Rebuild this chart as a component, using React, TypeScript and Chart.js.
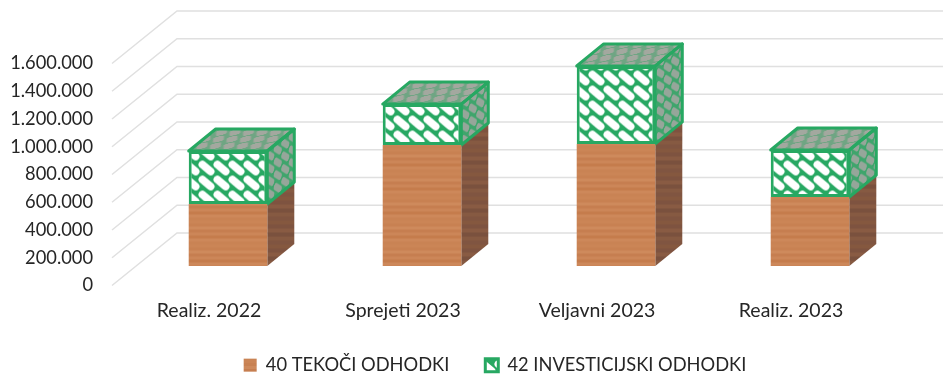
import React, { useEffect, useRef } from "react";
import { Chart, registerables } from "chart.js";

Chart.register(...registerables);

const categories = ["Realiz. 2022", "Sprejeti 2023", "Veljavni 2023", "Realiz. 2023"];
const tekoci = [447000, 872000, 880000, 497000];
const investicijski = [382000, 295000, 562000, 339000];
const seriesNames = ["40 TEKOČI ODHODKI", "42 INVESTICIJSKI ODHODKI"];
const GREEN = "#27a862";
const FONT = "Lato";
const TEXT = "#262626";
const GRID = "#e0e0e0";
const woodFront = ["#cb8556", "#c88152", "#ce8a5c", "#c67e50", "#cc8658", "#c57c4c", "#cd885a", "#c98354"];
const woodSide = ["#85583f", "#7e5340", "#895b43", "#7a513e", "#865a42", "#805541"];

// 3D frame: back wall offset from the front of the floor, and where bars stand in the depth
const WALL = { dx: 65, dy: -52.5 };
const BAR_SHIFT = { dx: 19, dy: -19.5 };
const BAR_DEPTH = { dx: 27, dy: -22 };

function stripes(colors: string[], h: number) {
  const c = document.createElement("canvas");
  c.width = 8;
  c.height = colors.length * h;
  const g = c.getContext("2d")!;
  colors.forEach((col, i) => {
    g.fillStyle = col;
    g.fillRect(0, i * h, 8, h);
  });
  return g.createPattern(c, "repeat")!;
}

function bricks(bg: string, fg: string) {
  const c = document.createElement("canvas");
  c.width = 15;
  c.height = 15;
  const g = c.getContext("2d")!;
  g.fillStyle = bg;
  g.fillRect(0, 0, 15, 15);
  g.strokeStyle = fg;
  g.lineWidth = 7.5;
  g.lineCap = "round";
  for (let i = -1; i <= 1; i++) {
    for (let j = -1; j <= 1; j++) {
      const x = 7.5 + i * 15;
      const y = 7.5 + j * 15;
      g.beginPath();
      g.moveTo(x - 4.2, y - 3.5);
      g.lineTo(x + 4.2, y + 3.5);
      g.stroke();
    }
  }
  return g.createPattern(c, "repeat")!;
}

function poly(ctx: CanvasRenderingContext2D, pts: number[][]) {
  ctx.beginPath();
  pts.forEach((p, i) => (i ? ctx.lineTo(p[0], p[1]) : ctx.moveTo(p[0], p[1])));
  ctx.closePath();
}

export default function App() {
  const ref = useRef<HTMLCanvasElement>(null);
  useEffect(() => {
    const frontWood = stripes(woodFront, 3);
    const sideWood = stripes(woodSide, 4);
    const frontHatch = bricks(GREEN, "#ffffff");
    const sideHatch = bricks("#3fa56c", "#96a69a");
    sideHatch.setTransform(new DOMMatrix([0.5, -0.4, 0, 0.85, 0, 0]));
    const topHatch = bricks("#6fa583", "#a3a89f");
    topHatch.setTransform(new DOMMatrix([0.9, 0, -1.1, 0.45, 0, 0]));

    const frame = {
      id: "frame3d",
      beforeLayout(chart: any) {
        const lg = chart.legend;
        if (lg && !lg.__patched) {
          lg.__patched = true;
          const fit = lg.fit;
          lg.fit = function () {
            fit.call(this);
            this.height = 30;
          };
        }
      },
      afterLayout(chart: any) {
        const lg = chart.legend;
        lg.top = 356 - lg.options.labels.padding;
        lg.left += 51;
        lg.right += 51;
      },
      beforeDatasetsDraw(chart: any) {
        const { ctx, chartArea, scales } = chart;
        const y = scales.y;
        ctx.save();
        ctx.strokeStyle = GRID;
        ctx.lineWidth = 1.5;
        y.ticks.forEach((t: any) => {
          const py = y.getPixelForValue(t.value);
          ctx.beginPath();
          ctx.moveTo(chartArea.left, py);
          ctx.lineTo(chartArea.left + WALL.dx, py + WALL.dy);
          ctx.lineTo(chartArea.right + WALL.dx, py + WALL.dy);
          ctx.stroke();
        });
        ctx.restore();

        ctx.save();
        ctx.translate(BAR_SHIFT.dx, BAR_SHIFT.dy);
        const d = BAR_DEPTH;
        chart.getDatasetMeta(0).data.forEach((el: any, i: number) => {
          const upper = chart.getDatasetMeta(1).data[i];
          const r = el.x + el.width / 2;
          const l = el.x - el.width / 2;
          poly(ctx, [[r, el.base], [r, el.y], [r + d.dx, el.y + d.dy], [r + d.dx, el.base + d.dy]]);
          ctx.fillStyle = sideWood;
          ctx.fill();
          const side = [[r, upper.base], [r, upper.y], [r + d.dx, upper.y + d.dy], [r + d.dx, upper.base + d.dy]];
          poly(ctx, side);
          ctx.fillStyle = sideHatch;
          ctx.fill();
          const top = [[l, upper.y], [l + d.dx, upper.y + d.dy], [r + d.dx, upper.y + d.dy], [r, upper.y]];
          poly(ctx, top);
          ctx.fillStyle = topHatch;
          ctx.fill();
          ctx.strokeStyle = GREEN;
          ctx.lineWidth = 3;
          ctx.lineJoin = "round";
          poly(ctx, side);
          ctx.stroke();
          poly(ctx, top);
          ctx.stroke();
        });
      },
      afterDatasetsDraw(chart: any) {
        chart.ctx.restore();
      },
    };

    const chart = new Chart(ref.current!, {
      type: "bar",
      data: {
        labels: categories,
        datasets: [
          {
            label: seriesNames[0],
            data: tekoci,
            backgroundColor: frontWood,
            borderWidth: 0,
            clip: false,
          },
          {
            label: seriesNames[1],
            data: investicijski,
            backgroundColor: frontHatch,
            borderColor: GREEN,
            borderWidth: 3,
            borderSkipped: false,
            clip: false,
          },
        ],
      } as any,
      plugins: [frame],
      options: {
        animation: false,
        responsive: false,
        maintainAspectRatio: false,
        layout: { padding: { top: 63.5, right: 55, bottom: 0, left: 0 } },
        datasets: { bar: { categoryPercentage: 1, barPercentage: 0.405 } },
        scales: {
          x: {
            stacked: true,
            grid: { display: false, drawTicks: false },
            border: { display: false },
            ticks: { color: TEXT, font: { family: FONT, size: 19.5 }, padding: 14, maxRotation: 0 },
            afterFit: (s: any) => {
              s.height = 60.5;
            },
          },
          y: {
            stacked: true,
            min: 0,
            max: 1600000,
            grid: { display: false, drawTicks: false },
            border: { display: false },
            ticks: {
              stepSize: 200000,
              color: TEXT,
              font: { family: FONT, size: 18.3 },
              padding: 19,
              callback: (v: any) => String(v).replace(/\B(?=(\d{3})+$)/g, "."),
            },
            afterFit: (s: any) => {
              s.width = 112;
            },
          },
        },
        plugins: {
          tooltip: { enabled: false },
          legend: {
            position: "bottom",
            labels: {
              color: TEXT,
              font: { family: FONT, size: 18.3 },
              boxWidth: 13,
              boxHeight: 13,
              padding: 36,
            },
          },
        },
      } as any,
    });
    return () => chart.destroy();
  }, []);
  return (
    <canvas
      ref={ref}
      width={943}
      height={376}
      style={{ position: "fixed", left: 0, top: 0, width: 943, height: 376, background: "#fff", filter: "blur(0.45px)" }}
    />
  );
}
